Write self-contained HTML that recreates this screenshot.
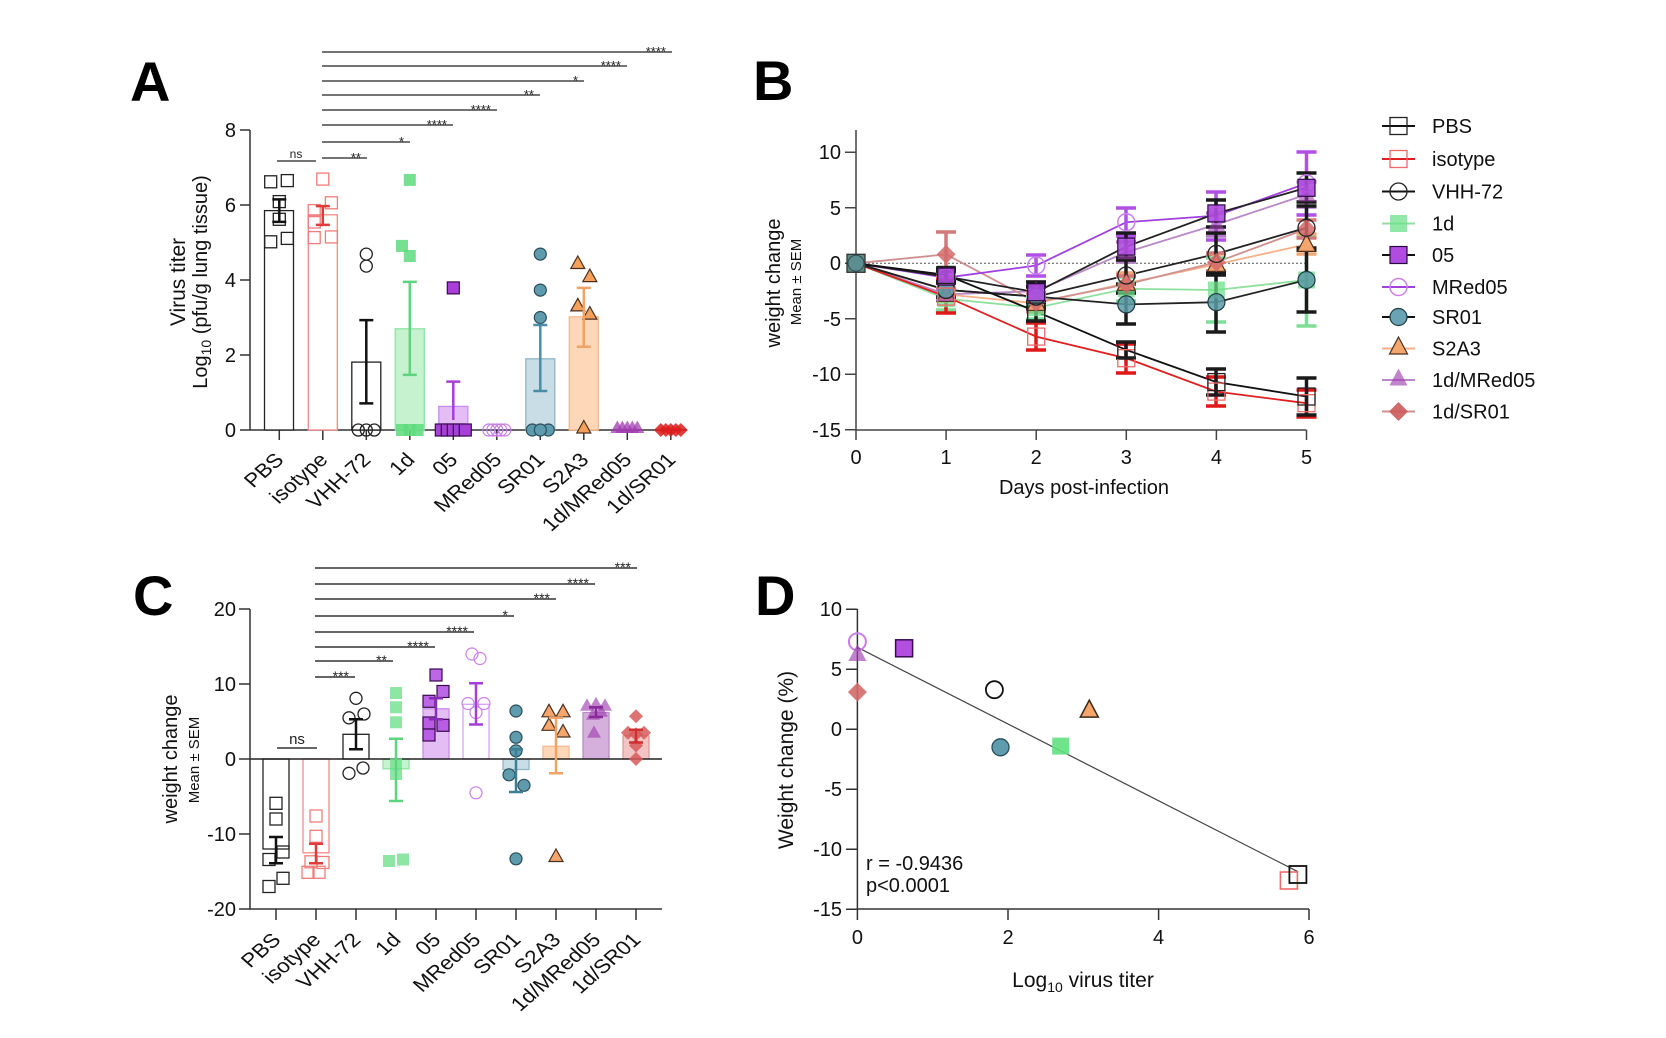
<!DOCTYPE html>
<html><head><meta charset="utf-8"><style>
html,body{margin:0;padding:0;background:#fff;}
svg{display:block;font-family:"Liberation Sans",Arial,sans-serif;}
</style></head><body>
<svg width="1666" height="1038" viewBox="0 0 1666 1038" xmlns="http://www.w3.org/2000/svg">
<defs>
<rect id="sa" x="-6" y="-6" width="12" height="12"/>
<circle id="ca" r="6"/>
<path id="ta" d="M0,-7.5L7,5L-7,5Z"/>
<path id="da" d="M0,-7L7,0L0,7L-7,0Z"/>
<rect id="sb" x="-8.5" y="-8.5" width="17" height="17"/>
<circle id="cb" r="8.5"/>
<path id="tb" d="M0,-10L9,7L-9,7Z"/>
<path id="db" d="M0,-9.5L9.5,0L0,9.5L-9.5,0Z"/>
</defs>
<rect width="1666" height="1038" fill="#fff"/>

<!-- Panel letters -->
<g font-weight="bold" font-size="56" fill="#000">
<text x="130" y="101">A</text>
<text x="753" y="100">B</text>
<text x="133" y="615">C</text>
<text x="755" y="615">D</text>
</g>

<!-- ============ PANEL A ============ -->
<g stroke="#333" stroke-width="1.5" fill="none">
<path d="M250,130V430M240,430H687"/>
<path d="M240,130H250M240,205H250M240,280H250M240,355H250"/>
<path d="M279.3,430v10M322.8,430v10M366.3,430v10M409.8,430v10M453.3,430v10M496.8,430v10M540.3,430v10M583.8,430v10M627.3,430v10M670.8,430v10"/>
</g>
<g font-size="20" text-anchor="end" fill="#111">
<text x="236" y="437">0</text><text x="236" y="362">2</text><text x="236" y="287">4</text><text x="236" y="212">6</text><text x="236" y="137">8</text>
</g>
<text transform="translate(185,282) rotate(-90)" text-anchor="middle" font-size="21" fill="#111">Virus titer</text>
<text transform="translate(207,282) rotate(-90)" text-anchor="middle" font-size="20" fill="#111">Log<tspan font-size="14" dy="4">10</tspan><tspan dy="-4"> (pfu/g lung tissue)</tspan></text>
<g font-size="19.5" text-anchor="end" fill="#111">
<text transform="translate(285,461) scale(1.15,1) rotate(-45)">PBS</text>
<text transform="translate(329,461) scale(1.15,1) rotate(-45)">isotype</text>
<text transform="translate(372,461) scale(1.15,1) rotate(-45)">VHH-72</text>
<text transform="translate(416,461) scale(1.15,1) rotate(-45)">1d</text>
<text transform="translate(459,461) scale(1.15,1) rotate(-45)">05</text>
<text transform="translate(503,461) scale(1.15,1) rotate(-45)">MRed05</text>
<text transform="translate(546,461) scale(1.15,1) rotate(-45)">SR01</text>
<text transform="translate(590,461) scale(1.15,1) rotate(-45)">S2A3</text>
<text transform="translate(633,461) scale(1.15,1) rotate(-45)">1d/MRed05</text>
<text transform="translate(677,461) scale(1.15,1) rotate(-45)">1d/SR01</text>
</g>
<!-- significance A -->
<g stroke="#222" stroke-width="1.3">
<path d="M322,52H672M322,66H627M322,81H584M322,95H540M322,110H497M322,125H453M322,142H410M322,158H367M277,161H316"/>
</g>
<g font-size="13" text-anchor="end" fill="#222">
<text x="666" y="56">****</text><text x="621" y="70">****</text><text x="578" y="85">*</text><text x="534" y="99">**</text><text x="491" y="114">****</text><text x="447" y="129">****</text><text x="404" y="146">*</text><text x="361" y="162">**</text>
</g>
<text x="296" y="158" font-size="12" text-anchor="middle" fill="#222">ns</text>
<!-- bars A -->
<g stroke-width="1.3">
<rect x="264.5" y="210.6" width="29" height="219.4" fill="#fff" stroke="#222"/>
<rect x="308.3" y="214.8" width="29" height="215.2" fill="#fff" stroke="#f08a8a"/>
<rect x="351.8" y="362.1" width="29" height="67.9" fill="#fff" stroke="#222"/>
<rect x="395.3" y="328.8" width="29" height="101.2" fill="#c6f2d0" stroke="#8ee4a4"/>
<rect x="438.8" y="406.4" width="29" height="23.6" fill="#e4bdf5" stroke="#c98cec"/>
<rect x="525.8" y="358.8" width="29" height="71.2" fill="#c9dde6" stroke="#8fb6c6"/>
<rect x="569.3" y="316.8" width="29" height="113.2" fill="#fdd7b8" stroke="#f6b98e"/>
</g>
<!-- points A -->
<g fill="none" stroke="#222" stroke-width="1.3">
<use href="#sa" x="270.7" y="181.8"/><use href="#sa" x="287.3" y="180.6"/><use href="#sa" x="279.3" y="201.6"/><use href="#sa" x="279.3" y="219.3"/><use href="#sa" x="270.7" y="241.8"/><use href="#sa" x="287.3" y="238.4"/>
</g>
<g fill="none" stroke="#f07c7c" stroke-width="1.3">
<use href="#sa" x="322.8" y="179.1"/><use href="#sa" x="331.4" y="202.8"/><use href="#sa" x="314.2" y="210.6"/><use href="#sa" x="314.2" y="222"/><use href="#sa" x="314.2" y="237.6"/><use href="#sa" x="331.4" y="236.9"/>
</g>
<g fill="none" stroke="#222" stroke-width="1.3">
<use href="#ca" x="366.3" y="254.1"/><use href="#ca" x="366.3" y="266.1"/><use href="#ca" x="358.3" y="430"/><use href="#ca" x="366.3" y="430"/><use href="#ca" x="374.3" y="430"/>
</g>
<g fill="#5ddc7c" fill-opacity="0.85">
<use href="#sa" x="409.8" y="179.9"/><use href="#sa" x="402" y="245.9"/><use href="#sa" x="409.8" y="256"/><use href="#sa" x="402" y="430"/><use href="#sa" x="409.8" y="430"/><use href="#sa" x="417.6" y="430"/>
</g>
<g fill="#a83fd8" stroke="#3a0a50" stroke-width="1.2">
<use href="#sa" x="453.3" y="287.9"/><use href="#sa" x="441.3" y="430"/><use href="#sa" x="447.3" y="430"/><use href="#sa" x="453.3" y="430"/><use href="#sa" x="459.3" y="430"/><use href="#sa" x="465.3" y="430"/>
</g>
<g fill="none" stroke="#c77ee8" stroke-width="1.2">
<use href="#ca" x="488.8" y="430"/><use href="#ca" x="492.8" y="430"/><use href="#ca" x="496.8" y="430"/><use href="#ca" x="500.8" y="430"/><use href="#ca" x="504.8" y="430"/>
</g>
<g fill="#5e9bad" stroke="#2b4d5a" stroke-width="1.2">
<use href="#ca" x="540.3" y="254.1"/><use href="#ca" x="540.3" y="290.1"/><use href="#ca" x="540.3" y="317.5"/><use href="#ca" x="532.3" y="430"/><use href="#ca" x="548.3" y="430"/><use href="#ca" x="540.3" y="430"/>
</g>
<g fill="#f5a15c" stroke="#4a3020" stroke-width="1.2">
<use href="#ta" x="577.8" y="263.5"/><use href="#ta" x="589.8" y="276.6"/><use href="#ta" x="577.8" y="305.9"/><use href="#ta" x="589.8" y="314.1"/><use href="#ta" x="583.8" y="428"/>
</g>
<g fill="#a23bb0" fill-opacity="0.75">
<use href="#ta" x="617.3" y="428"/><use href="#ta" x="622.3" y="428"/><use href="#ta" x="627.3" y="428"/><use href="#ta" x="632.3" y="428"/><use href="#ta" x="637.3" y="428"/>
</g>
<g fill="#dd1c1c" fill-opacity="0.85">
<use href="#da" x="660.8" y="430"/><use href="#da" x="665.8" y="430"/><use href="#da" x="670.8" y="430"/><use href="#da" x="675.8" y="430"/><use href="#da" x="680.8" y="430"/>
</g>
<!-- error bars A -->
<g fill="none" stroke-width="2.5">
<path stroke="#111" d="M279.3,199.4V221.9M272.3,199.4h14M272.3,221.9h14"/>
<path stroke="#e23a3a" d="M322.8,206.1V224.9M315.8,206.1h14M315.8,224.9h14"/>
<path stroke="#111" d="M366.3,320.1V403.4M359.3,320.1h14M359.3,403.4h14"/>
<path stroke="#5fd47e" d="M409.8,281.9V374.9M402.8,281.9h14M402.8,374.9h14"/>
<path stroke="#a63fd8" d="M453.3,381.6V420M446.3,381.6h14"/>
<path stroke="#4d8da3" d="M540.3,325V391M533.3,325h14M533.3,391h14"/>
<path stroke="#f1a366" d="M583.8,287.9V346.8M576.8,287.9h14M576.8,346.8h14"/>
</g>

<!-- ============ PANEL B ============ -->
<g stroke="#444" stroke-width="1.5" fill="none">
<path d="M856,130V430H1306.5"/>
<path d="M845,152.3H856M845,207.8H856M845,263.3H856M845,318.8H856M845,374.3H856M845,429.8H856"/>
<path d="M856,430v10M946.1,430v10M1036.2,430v10M1126.3,430v10M1216.4,430v10M1306.5,430v10"/>
</g>
<line x1="856" y1="263.3" x2="1306.5" y2="263.3" stroke="#555" stroke-width="1" stroke-dasharray="2,2"/>
<g font-size="20" text-anchor="end" fill="#111">
<text x="841" y="159">10</text><text x="841" y="215">5</text><text x="841" y="270">0</text><text x="841" y="326">-5</text><text x="841" y="381">-10</text><text x="841" y="437">-15</text>
</g>
<g font-size="20" text-anchor="middle" fill="#111">
<text x="856" y="464">0</text><text x="946.1" y="464">1</text><text x="1036.2" y="464">2</text><text x="1126.3" y="464">3</text><text x="1216.4" y="464">4</text><text x="1306.5" y="464">5</text>
<text x="1084" y="494">Days post-infection</text>
</g>
<text transform="translate(780,283) rotate(-90)" text-anchor="middle" font-size="20" fill="#111">weight change</text>
<text transform="translate(801,282) rotate(-90)" text-anchor="middle" font-size="15" fill="#111">Mean ± SEM</text>
<!-- lines B -->
<g fill="none" stroke-width="1.8">
<polyline stroke="#8fe0a0" points="856,263.3 946.1,298.8 1036.2,307.7 1126.3,288.8 1216.4,290 1306.5,280"/>
<polyline stroke="#f5b088" points="856,263.3 946.1,294.4 1036.2,303.3 1126.3,283.3 1216.4,264.4 1306.5,244.4"/>
<polyline stroke="#b888c8" points="856,263.3 946.1,294.4 1036.2,291.1 1126.3,252.2 1216.4,224.5 1306.5,194.5"/>
<polyline stroke="#d09090" points="856,263.3 946.1,254.4 1036.2,302.2 1126.3,284.4 1216.4,262.2 1306.5,228.9"/>
<polyline stroke="#a040e0" points="856,263.3 946.1,277.7 1036.2,265.5 1126.3,222.2 1216.4,215.6 1306.5,183.4"/>
<polyline stroke="#e02020" points="856,263.3 946.1,296.6 1036.2,336.6 1126.3,358.2 1216.4,391.6 1306.5,403.2"/>
<polyline stroke="#222" points="856,263.3 946.1,289.9 1036.2,296.6 1126.3,304.4 1216.4,302.2 1306.5,280"/>
<polyline stroke="#222" points="856,263.3 946.1,289.9 1036.2,296.6 1126.3,275.5 1216.4,253.9 1306.5,227.8"/>
<polyline stroke="#222" points="856,263.3 946.1,276.6 1036.2,292.2 1126.3,246.6 1216.4,213.4 1306.5,187.8"/>
<polyline stroke="#111" points="856,263.3 946.1,274.9 1036.2,311.6 1126.3,349.9 1216.4,382.1 1306.5,396.5"/>
</g>
<!-- error bars B -->
<g fill="none" stroke-width="3.5">
<path stroke="#7ede98" d="M946,288V310M936,288h20M936,310h20M1036,297V319M1026,297h20M1026,319h20M1126,277V301M1116,277h20M1116,301h20M1216,258V322M1206,258h20M1206,322h20M1306.5,235V326M1296.5,235h20M1296.5,326h20"/>
<path stroke="#f0a878" d="M946,288V301M936,288h20M936,301h20M1036,294V312M1026,294h20M1026,312h20M1126,273V293M1116,273h20M1116,293h20M1216,254V274M1206,254h20M1206,274h20M1306.5,234V254M1296.5,234h20M1296.5,254h20"/>
<path stroke="#b27cc2" d="M946,289V300M936,289h20M936,300h20M1036,282V300M1026,282h20M1026,300h20M1126,242V262M1116,242h20M1116,262h20M1216,213V236M1206,213h20M1206,236h20M1306.5,182V207M1296.5,182h20M1296.5,207h20"/>
<path stroke="#d27a7a" d="M946,232V277M936,232h20M936,277h20M1036,293V311M1026,293h20M1026,311h20M1126,276V293M1116,276h20M1116,293h20M1216,253V271M1206,253h20M1206,271h20M1306.5,220V238M1296.5,220h20M1296.5,238h20"/>
<path stroke="#b050e6" d="M946,272V283M936,272h20M936,283h20M1036,255V276M1026,255h20M1026,276h20M1126,208V236M1116,208h20M1116,236h20M1216,192V240M1206,192h20M1206,240h20M1306.5,152V215M1296.5,152h20M1296.5,215h20"/>
<path stroke="#e01818" d="M946,280V313M936,280h20M936,313h20M1036,323V350M1026,323h20M1026,350h20M1126,344V373M1116,344h20M1116,373h20M1216,377V406M1206,377h20M1206,406h20M1306.5,390V417M1296.5,390h20M1296.5,417h20"/>
<path stroke="#1a1a1a" d="M946,283V297M936,283h20M936,297h20M1036,287V307M1026,287h20M1026,307h20M1126,284V324M1116,284h20M1116,324h20M1216,273V332M1206,273h20M1206,332h20M1306.5,248V312M1296.5,248h20M1296.5,312h20"/>
<path stroke="#1a1a1a" d="M946,283V297M1036,286V308M1026,286h20M1026,308h20M1126,258V293M1116,258h20M1116,293h20M1216,233V275M1206,233h20M1206,275h20M1306.5,206V250M1296.5,206h20M1296.5,250h20"/>
<path stroke="#1a1a1a" d="M946,271V282M936,271h20M936,282h20M1036,282V302M1026,282h20M1026,302h20M1126,233V260M1116,233h20M1116,260h20M1216,200V227M1206,200h20M1206,227h20M1306.5,173V202M1296.5,173h20M1296.5,202h20"/>
<path stroke="#1a1a1a" d="M946,268V282M936,268h20M936,282h20M1036,303V321M1026,303h20M1026,321h20M1126,342V358M1116,342h20M1116,358h20M1216,369V395M1206,369h20M1206,395h20M1306.5,378V415M1296.5,378h20M1296.5,415h20"/>
</g>
<!-- markers B -->
<g fill="#6ee08a" fill-opacity="0.75">
<use href="#sb" x="946.1" y="298.8"/><use href="#sb" x="1036.2" y="307.7"/><use href="#sb" x="1126.3" y="288.8"/><use href="#sb" x="1216.4" y="290"/><use href="#sb" x="1306.5" y="280"/>
</g>
<g fill="#f5a66c" stroke="#4a3020" stroke-width="1.2">
<use href="#tb" x="946.1" y="294.4"/><use href="#tb" x="1036.2" y="303.3"/><use href="#tb" x="1126.3" y="283.3"/><use href="#tb" x="1216.4" y="264.4"/><use href="#tb" x="1306.5" y="244.4"/>
</g>
<g fill="#a040b0" fill-opacity="0.6">
<use href="#tb" x="946.1" y="294.4"/><use href="#tb" x="1036.2" y="291.1"/><use href="#tb" x="1126.3" y="252.2"/><use href="#tb" x="1216.4" y="224.5"/><use href="#tb" x="1306.5" y="194.5"/>
</g>
<g fill="#d46a6a" fill-opacity="0.85">
<use href="#db" x="946.1" y="254.4"/><use href="#db" x="1036.2" y="302.2"/><use href="#db" x="1126.3" y="284.4"/><use href="#db" x="1216.4" y="262.2"/><use href="#db" x="1306.5" y="228.9"/>
</g>
<g fill="none" stroke="#cc80ee" stroke-width="1.5">
<use href="#cb" x="946.1" y="277.7"/><use href="#cb" x="1036.2" y="265.5"/><use href="#cb" x="1126.3" y="222.2"/><use href="#cb" x="1216.4" y="215.6"/><use href="#cb" x="1306.5" y="183.4"/>
</g>
<g fill="#5b9aa5" fill-opacity="0.85" stroke="#1e3a44" stroke-width="1.2">
<use href="#cb" x="946.1" y="289.9"/><use href="#cb" x="1036.2" y="296.6"/><use href="#cb" x="1126.3" y="304.4"/><use href="#cb" x="1216.4" y="302.2"/><use href="#cb" x="1306.5" y="280"/>
</g>
<g fill="none" stroke="#222" stroke-width="1.3">
<use href="#cb" x="946.1" y="289.9"/><use href="#cb" x="1036.2" y="296.6"/><use href="#cb" x="1126.3" y="275.5"/><use href="#cb" x="1216.4" y="253.9"/><use href="#cb" x="1306.5" y="227.8"/>
</g>
<g fill="#b04ce0" fill-opacity="0.9" stroke="#2a0a40" stroke-width="1.2">
<use href="#sb" x="946.1" y="276.6"/><use href="#sb" x="1036.2" y="292.2"/><use href="#sb" x="1126.3" y="246.6"/><use href="#sb" x="1216.4" y="213.4"/><use href="#sb" x="1306.5" y="187.8"/>
</g>
<g fill="none" stroke="#f06a6a" stroke-width="1.3">
<use href="#sb" x="946.1" y="296.6"/><use href="#sb" x="1036.2" y="336.6"/><use href="#sb" x="1126.3" y="358.2"/><use href="#sb" x="1216.4" y="391.6"/><use href="#sb" x="1306.5" y="403.2"/>
</g>
<g fill="none" stroke="#222" stroke-width="1.3">
<use href="#sb" x="946.1" y="274.9"/><use href="#sb" x="1036.2" y="311.6"/><use href="#sb" x="1126.3" y="349.9"/><use href="#sb" x="1216.4" y="382.1"/><use href="#sb" x="1306.5" y="396.5"/>
</g>
<rect x="847" y="254.3" width="18" height="18" fill="#5e8b80" stroke="#333" stroke-width="1.3"/>
<circle cx="856" cy="263.3" r="8" fill="#5b8e90" stroke="#2e4a50" stroke-width="1"/>

<!-- legend -->
<g stroke-width="2">
<line x1="1382" y1="126" x2="1415" y2="126" stroke="#111"/>
<line x1="1382" y1="159" x2="1415" y2="159" stroke="#e02020"/>
<line x1="1382" y1="191.5" x2="1415" y2="191.5" stroke="#111"/>
<line x1="1382" y1="223.5" x2="1415" y2="223.5" stroke="#8fe0a0"/>
<line x1="1382" y1="255" x2="1415" y2="255" stroke="#111"/>
<line x1="1382" y1="287" x2="1415" y2="287" stroke="#a040e0"/>
<line x1="1382" y1="317" x2="1415" y2="317" stroke="#111"/>
<line x1="1382" y1="348.5" x2="1415" y2="348.5" stroke="#f5b088"/>
<line x1="1382" y1="380" x2="1415" y2="380" stroke="#b888c8"/>
<line x1="1382" y1="411.5" x2="1415" y2="411.5" stroke="#d09090"/>
</g>
<use href="#sb" x="1398.5" y="126" fill="none" stroke="#222" stroke-width="1.3"/>
<use href="#sb" x="1398.5" y="159" fill="none" stroke="#f06a6a" stroke-width="1.3"/>
<use href="#cb" x="1398.5" y="191.5" fill="none" stroke="#222" stroke-width="1.3"/>
<use href="#sb" x="1398.5" y="223.5" fill="#6ee08a" fill-opacity="0.75"/>
<use href="#sb" x="1398.5" y="255" fill="#b04ce0" stroke="#2a0a40" stroke-width="1.2"/>
<use href="#cb" x="1398.5" y="287" fill="none" stroke="#cc80ee" stroke-width="1.5"/>
<use href="#cb" x="1398.5" y="317" fill="#6aa3b3" stroke="#1e3a44" stroke-width="1.2"/>
<use href="#tb" x="1398.5" y="347" fill="#f5a66c" stroke="#4a3020" stroke-width="1.2"/>
<use href="#tb" x="1398.5" y="378.5" fill="#a040b0" fill-opacity="0.65"/>
<use href="#db" x="1398.5" y="411.5" fill="#cc5a5a" fill-opacity="0.9"/>
<g font-size="20" fill="#111">
<text x="1432" y="133">PBS</text>
<text x="1432" y="166">isotype</text>
<text x="1432" y="198.5">VHH-72</text>
<text x="1432" y="230.5">1d</text>
<text x="1432" y="262">05</text>
<text x="1432" y="294">MRed05</text>
<text x="1432" y="324">SR01</text>
<text x="1432" y="355.5">S2A3</text>
<text x="1432" y="387">1d/MRed05</text>
<text x="1432" y="418.5">1d/SR01</text>
</g>

<!-- ============ PANEL C ============ -->
<g stroke="#333" stroke-width="1.5" fill="none">
<path d="M250,609V909H662"/>
<path d="M239,609H250M239,684H250M239,759H250M239,834H250M239,909H250"/>
<path d="M276,909v11M316,909v11M356,909v11M396,909v11M436,909v11M476,909v11M516,909v11M556,909v11M596,909v11M636,909v11"/>
</g>
<g font-size="20" text-anchor="end" fill="#111">
<text x="236" y="616">20</text><text x="236" y="691">10</text><text x="236" y="766">0</text><text x="236" y="841">-10</text><text x="236" y="916">-20</text>
</g>
<text transform="translate(177,759) rotate(-90)" text-anchor="middle" font-size="20" fill="#111">weight change</text>
<text transform="translate(199,760) rotate(-90)" text-anchor="middle" font-size="15" fill="#111">Mean ± SEM</text>
<g font-size="19.5" text-anchor="end" fill="#111">
<text transform="translate(282,941) scale(1.15,1) rotate(-45)">PBS</text>
<text transform="translate(322,941) scale(1.15,1) rotate(-45)">isotype</text>
<text transform="translate(362,941) scale(1.15,1) rotate(-45)">VHH-72</text>
<text transform="translate(402,941) scale(1.15,1) rotate(-45)">1d</text>
<text transform="translate(442,941) scale(1.15,1) rotate(-45)">05</text>
<text transform="translate(482,941) scale(1.15,1) rotate(-45)">MRed05</text>
<text transform="translate(522,941) scale(1.15,1) rotate(-45)">SR01</text>
<text transform="translate(562,941) scale(1.15,1) rotate(-45)">S2A3</text>
<text transform="translate(602,941) scale(1.15,1) rotate(-45)">1d/MRed05</text>
<text transform="translate(642,941) scale(1.15,1) rotate(-45)">1d/SR01</text>
</g>
<g stroke="#333" stroke-width="1.4">
<path d="M315,568H637M315,584H595M315,599H556M315,616H514M315,632H474M315,647H435M315,661H393M315,677H355M277,748H317"/>
</g>
<g font-size="14" text-anchor="end" fill="#222">
<text x="631" y="572">***</text><text x="589" y="588">****</text><text x="550" y="603">***</text><text x="508" y="620">*</text><text x="468" y="636">****</text><text x="429" y="651">****</text><text x="387" y="665">**</text><text x="349" y="681">***</text>
</g>
<text x="297" y="744" font-size="15" text-anchor="middle" fill="#222">ns</text>
<!-- bars C -->
<g stroke-width="1.3">
<rect x="263" y="759" width="26" height="90" fill="#fff" stroke="#222"/>
<rect x="303" y="759" width="26" height="93.8" fill="#fff" stroke="#f08a8a"/>
<rect x="343" y="734.3" width="26" height="24.7" fill="#fff" stroke="#222"/>
<rect x="383" y="759" width="26" height="9.8" fill="#c6f2d0" stroke="#8ee4a4"/>
<rect x="423" y="708.8" width="26" height="50.2" fill="#e4bdf5" stroke="#c98cec"/>
<rect x="463" y="704.3" width="26" height="54.7" fill="#fff" stroke="#d9a3f3"/>
<rect x="503" y="759" width="26" height="10.5" fill="#c9dde6" stroke="#8fb6c6"/>
<rect x="543" y="746.3" width="26" height="12.7" fill="#fdd7b8" stroke="#f6b98e"/>
<rect x="583" y="712.5" width="26" height="46.5" fill="#d6b0dd" stroke="#b98bc4"/>
<rect x="623" y="735.8" width="26" height="23.2" fill="#f2c4c4" stroke="#e49a9a"/>
</g>
<line x1="250" y1="759" x2="662" y2="759" stroke="#222" stroke-width="1.5"/>
<!-- points C -->
<g fill="none" stroke="#222" stroke-width="1.3">
<use href="#sa" x="276" y="803.3"/><use href="#sa" x="276" y="819"/><use href="#sa" x="269" y="859.5"/><use href="#sa" x="283" y="852"/><use href="#sa" x="269" y="886.5"/><use href="#sa" x="283" y="878.3"/>
</g>
<g fill="none" stroke="#f07c7c" stroke-width="1.3">
<use href="#sa" x="316" y="816"/><use href="#sa" x="316" y="836.3"/><use href="#sa" x="311" y="861.8"/><use href="#sa" x="323" y="862.5"/><use href="#sa" x="308" y="872.3"/><use href="#sa" x="319" y="872.3"/>
</g>
<g fill="none" stroke="#222" stroke-width="1.3">
<use href="#ca" x="356" y="698.3"/><use href="#ca" x="349" y="717.8"/><use href="#ca" x="364" y="714"/><use href="#ca" x="349" y="773.3"/><use href="#ca" x="363" y="768"/>
</g>
<g fill="#72e08e" fill-opacity="0.8">
<use href="#sa" x="396" y="693"/><use href="#sa" x="396" y="707.3"/><use href="#sa" x="396" y="722.3"/><use href="#sa" x="396" y="764.3"/><use href="#sa" x="396" y="774"/><use href="#sa" x="389" y="861"/><use href="#sa" x="403" y="859.5"/>
</g>
<g fill="#b04ce0" fill-opacity="0.85" stroke="#3a0a50" stroke-width="1.2">
<use href="#sa" x="436" y="675"/><use href="#sa" x="443" y="691.5"/><use href="#sa" x="429" y="701.3"/><use href="#sa" x="429" y="723"/><use href="#sa" x="443" y="725.3"/><use href="#sa" x="429" y="735"/>
</g>
<g fill="none" stroke="#cc80ee" stroke-width="1.2">
<use href="#ca" x="472" y="654"/><use href="#ca" x="480" y="658.5"/><use href="#ca" x="468" y="703.5"/><use href="#ca" x="484" y="703.5"/><use href="#ca" x="476" y="712.5"/><use href="#ca" x="476" y="792.8"/>
</g>
<g fill="#5e9bad" stroke="#2b4d5a" stroke-width="1.2">
<use href="#ca" x="516" y="711"/><use href="#ca" x="516" y="737.3"/><use href="#ca" x="516" y="750.8"/><use href="#ca" x="509" y="774.8"/><use href="#ca" x="524" y="785.3"/><use href="#ca" x="516" y="858.8"/>
</g>
<g fill="#f5a66c" stroke="#4a3020" stroke-width="1.2">
<use href="#ta" x="549" y="711.8"/><use href="#ta" x="563" y="711.8"/><use href="#ta" x="549" y="725.3"/><use href="#ta" x="563" y="732"/><use href="#ta" x="556" y="856.5"/>
</g>
<g fill="#a040b0" fill-opacity="0.65">
<use href="#ta" x="587" y="705.8"/><use href="#ta" x="596" y="704.3"/><use href="#ta" x="605" y="705.8"/><use href="#ta" x="593" y="714.8"/><use href="#ta" x="601" y="711.8"/><use href="#ta" x="594" y="732.8"/>
</g>
<g fill="#d85a5a" fill-opacity="0.85">
<use href="#da" x="636" y="716.3"/><use href="#da" x="628" y="732.8"/><use href="#da" x="644" y="732.8"/><use href="#da" x="636" y="734.3"/><use href="#da" x="636" y="745.5"/><use href="#da" x="636" y="759"/>
</g>
<!-- error bars C -->
<g fill="none" stroke-width="2.5">
<path stroke="#111" d="M276,837V863.3M269,837h14M269,863.3h14"/>
<path stroke="#e23a3a" d="M316,843.8V863.3M309,843.8h14M309,863.3h14"/>
<path stroke="#111" d="M356,719.3V749.3M349,719.3h14M349,749.3h14"/>
<path stroke="#5fd47e" d="M396,738.8V801M389,738.8h14M389,801h14"/>
<path stroke="#8a2bb8" d="M436,698.3V719.3M429,698.3h14M429,719.3h14"/>
<path stroke="#a63fd8" d="M476,683.3V724.5M469,683.3h14M469,724.5h14"/>
<path stroke="#3d7f95" d="M516,749.3V792M509,749.3h14M509,792h14"/>
<path stroke="#f1a366" d="M556,717.8V773.3M549,717.8h14M549,773.3h14"/>
<path stroke="#8a2b9a" d="M596,707.3V717M589,707.3h14M589,717h14"/>
<path stroke="#d03030" d="M636,729.8V742.5M629,729.8h14M629,742.5h14"/>
</g>

<!-- ============ PANEL D ============ -->
<g stroke="#333" stroke-width="1.5" fill="none">
<path d="M857.4,609V909H1309"/>
<path d="M846,609.3H857.4M846,669.3H857.4M846,729.3H857.4M846,789.3H857.4M846,849.3H857.4M846,909.3H857.4"/>
<path d="M857.4,909v11M1008,909v11M1158.6,909v11M1309,909v11"/>
</g>
<g font-size="20" text-anchor="end" fill="#111">
<text x="842" y="616">10</text><text x="842" y="676">5</text><text x="842" y="736">0</text><text x="842" y="796">-5</text><text x="842" y="856">-10</text><text x="842" y="916">-15</text>
</g>
<g font-size="20" text-anchor="middle" fill="#111">
<text x="857.4" y="944">0</text><text x="1008" y="944">2</text><text x="1158.6" y="944">4</text><text x="1309" y="944">6</text>
<text x="1083" y="987" font-size="21">Log<tspan font-size="14" dy="5">10</tspan><tspan dy="-5"> virus titer</tspan></text>
</g>
<text transform="translate(793,760) rotate(-90)" text-anchor="middle" font-size="21" fill="#111">Weight change (%)</text>
<g font-size="20" fill="#111">
<text x="866" y="870">r = -0.9436</text>
<text x="866" y="892">p&lt;0.0001</text>
</g>
<line x1="857.4" y1="647.3" x2="1297.9" y2="871.7" stroke="#444" stroke-width="1.2"/>
<use href="#cb" x="857.4" y="641.7" fill="none" stroke="#c77ee8" stroke-width="2"/>
<use href="#tb" x="857.4" y="654" fill="#a040b0" fill-opacity="0.65"/>
<use href="#sb" x="904.1" y="648.3" fill="#b24ee0" stroke="#3a0a50" stroke-width="1.5"/>
<use href="#db" x="857.4" y="692.1" fill="#d46a6a" fill-opacity="0.9"/>
<use href="#cb" x="994.4" y="689.7" fill="none" stroke="#111" stroke-width="1.8"/>
<use href="#tb" x="1089.3" y="710.1" fill="#f6a66a" stroke="#3a2a1a" stroke-width="1.5"/>
<use href="#cb" x="1000.5" y="747.3" fill="#5e9bad" stroke="#2b4d5a" stroke-width="1.3"/>
<use href="#sb" x="1060.7" y="746.1" fill="#62e07e" fill-opacity="0.9"/>
<use href="#sb" x="1288.9" y="880.5" fill="none" stroke="#f06a6a" stroke-width="1.6"/>
<use href="#sb" x="1297.9" y="874.5" fill="none" stroke="#111" stroke-width="1.8"/>
</svg>
</body></html>
